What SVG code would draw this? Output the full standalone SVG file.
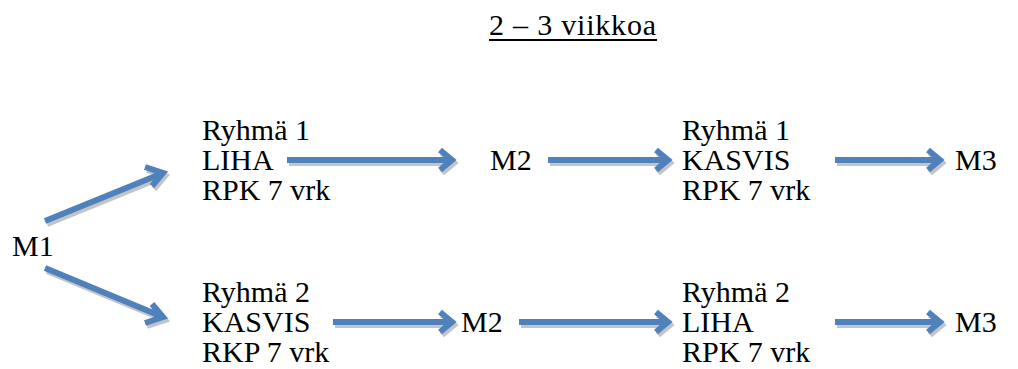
<svg xmlns="http://www.w3.org/2000/svg" xmlns:xlink="http://www.w3.org/1999/xlink" width="1018" height="369" viewBox="0 0 1018 369">
<style>
text{font-family:"Liberation Serif","Times New Roman",Times,Tinos,"Noto Serif","DejaVu Serif",FreeSerif,serif;font-size:30px;fill:#000}
.arr{fill:none;stroke-width:6;stroke-linejoin:miter;stroke-linecap:butt}
</style>
<defs>
<g id="arrowpaths">
<path d="M45 221 L163 173 M145 167 L163 173 L152 186"/>
<path d="M45 268 L163 317 M152 304 L163 317 L145 323"/>
<path d="M287 160 H452 M440 150 L452 160 L440 170"/>
<path d="M548 160 H668 M656 150 L668 160 L656 170"/>
<path d="M835 160 H940 M928 150 L940 160 L928 170"/>
<path d="M333 322 H452 M440 312 L452 322 L440 332"/>
<path d="M519 322 H668 M656 312 L668 322 L656 332"/>
<path d="M835 322 H940 M928 312 L940 322 L928 332"/>
</g>
</defs>
<rect width="1018" height="369" fill="#fff"/>
<g id="title">
<text x="489" y="35" textLength="167" lengthAdjust="spacing">2 – 3 viikkoa</text>
<rect x="489" y="39" width="168" height="2" fill="#000"/>
</g>
<g id="connectors">
<g class="arr" stroke="#c4c4c4" transform="translate(2,3)"><use xlink:href="#arrowpaths"/></g>
<g class="arr" stroke="#4F81BD"><use xlink:href="#arrowpaths"/></g>
</g>
<g id="m1"><text x="12" y="256">M1</text></g>
<g id="g1a"><text x="202" y="140">Ryhmä 1</text><text x="202" y="170">LIHA</text><text x="202" y="200">RPK 7 vrk</text></g>
<g id="m2a"><text x="490" y="170">M2</text></g>
<g id="g1b"><text x="682" y="140">Ryhmä 1</text><text x="682" y="170">KASVIS</text><text x="682" y="200">RPK 7 vrk</text></g>
<g id="m3a"><text x="955" y="170">M3</text></g>
<g id="g2a"><text x="202" y="302">Ryhmä 2</text><text x="202" y="332">KASVIS</text><text x="202" y="362">RKP 7 vrk</text></g>
<g id="m2b"><text x="461" y="332">M2</text></g>
<g id="g2b"><text x="682" y="302">Ryhmä 2</text><text x="682" y="332">LIHA</text><text x="682" y="362">RPK 7 vrk</text></g>
<g id="m3b"><text x="955" y="332">M3</text></g>
</svg>
